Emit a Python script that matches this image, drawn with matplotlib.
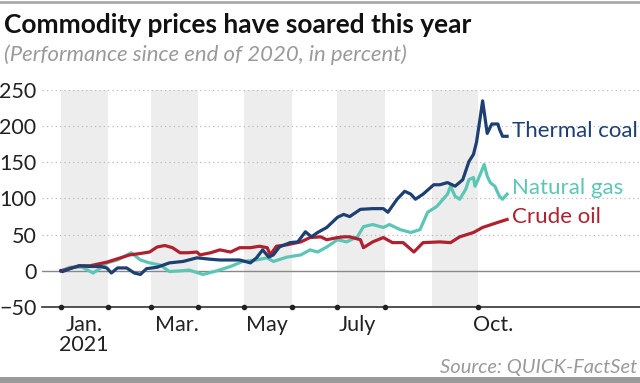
import matplotlib.pyplot as plt
import pandas as pd

# values, x = days since Jan 1 2021, y = percent since end of 2020
oil_days = [0, 12, 19, 30, 39, 45, 52, 58, 63, 68, 73, 78, 83, 89, 91, 98, 104, 111, 117,
            124, 130, 135, 137, 141, 148, 157, 163, 170, 174, 181, 185, 189, 196, 198, 204,
            211, 217, 224, 231, 237, 248, 255, 261, 270, 276, 286, 292]
oil_vals = [0, 7, 7, 12, 18, 22, 24, 26, 33, 35, 32, 25, 25, 26, 22, 25, 29, 26, 32,
            32, 34, 32, 22, 34, 36, 40, 46, 47, 43, 46, 47, 47, 43, 32, 40,
            46, 39, 39, 26, 39, 40, 39, 47, 53, 60, 67, 71]

gas_days = [0, 6, 14, 21, 26, 30, 37, 46, 52, 58, 65, 71, 78, 84, 93, 102, 111, 119, 128,
            135, 139, 148, 157, 163, 168, 174, 181, 187, 194, 198, 204, 211, 215, 222, 229,
            235, 240, 246, 253, 255, 258, 261, 265, 267, 270, 271, 273, 277, 279, 281, 284,
            287, 289, 292]
gas_vals = [0, 5, 5, -3, 4, 11, 15, 25, 15, 11, 8, -1, 0, 1, -5, 0, 6, 13, 15,
            18, 13, 19, 22, 29, 26, 33, 43, 40, 47, 61, 64, 60, 64, 57, 53,
            57, 81, 89, 106, 117, 103, 99, 113, 126, 129, 117, 126, 147, 131, 122, 117,
            103, 99, 106]

coal_days = [0, 1, 6, 12, 19, 26, 30, 33, 37, 43, 48, 52, 56, 63, 71, 80, 89, 98, 104, 117,
             124, 128, 132, 136, 139, 143, 150, 155, 160, 164, 168, 174, 181, 185, 189, 196,
             204, 211, 214, 220, 225, 229, 232, 237, 244, 248, 253, 258, 263, 267, 270, 272,
             274, 276, 279, 282, 286, 287, 289, 292]
coal_vals = [0, -1, 3, 7, 6, 6, 4, -3, 4, 4, -3, -5, 3, 5, 11, 13, 18, 16, 15, 15,
             11, 18, 29, 19, 22, 33, 39, 40, 54, 47, 53, 60, 74, 78, 75, 85,
             86, 86, 81, 99, 110, 106, 99, 106, 119, 119, 122, 117, 126, 151, 161, 178,
             206, 235, 190, 203, 203, 196, 186, 186]

start = pd.Timestamp("2021-01-01")
def to_dates(days):
    return start + pd.to_timedelta(days, unit="D")

navy = "#1d3f72"
teal = "#5cc6b6"
red = "#b0212f"

plt.rcParams['font.family'] = ['Lato', 'DejaVu Sans']

fig = plt.figure(figsize=(6.4, 3.83), dpi=100)
ax = fig.add_axes([42/640, 1 - 307/383, 598/640, (307 - 90)/383])

# shaded alternate months
for m in [1, 3, 5, 7, 9]:
    ax.axvspan(pd.Timestamp(2021, m, 1), pd.Timestamp(2021, m + 1, 1), color="#ededed", lw=0, zorder=0)

for y in [50, 100, 150, 200, 250]:
    ax.axhline(y, color="#bbbbbb", lw=0.9, ls=(0, (1, 2.5)), zorder=1)
ax.axhline(0, color="#888888", lw=1.0, zorder=1)
ax.axhline(-50, color="#333333", lw=1.2, zorder=3, clip_on=False)

ax.plot(to_dates(gas_days), gas_vals, color=teal, lw=2.3, zorder=4)
ax.plot(to_dates(oil_days), oil_vals, color=red, lw=2.3, zorder=5)
ax.plot(to_dates(coal_days), coal_vals, color=navy, lw=2.3, zorder=6)

# tick dots on the bottom axis
dot_dates = [pd.Timestamp(2021, m, 1) for m in [1, 2, 3, 4, 5, 6, 7, 8, 10]]
ax.plot(dot_dates, [-50] * len(dot_dates), "o", color="#222222", ms=3, zorder=6, clip_on=False)

ax.set_xlim(start - pd.Timedelta(days=12.4), start + pd.Timedelta(days=379))
ax.set_ylim(-50, 250)

for s in ax.spines.values():
    s.set_visible(False)

ax.set_yticks([-50, 0, 50, 100, 150, 200, 250])
ax.set_yticklabels(["\u221250", "0", "50", "100", "150", "200", "250"])
ax.tick_params(axis="y", length=0, pad=4, labelsize=15.5, labelcolor="#222222")

xt = [pd.Timestamp("2021-01-16"), pd.Timestamp("2021-03-18"), pd.Timestamp("2021-05-16"),
      pd.Timestamp("2021-07-14"), pd.Timestamp("2021-10-11")]
ax.set_xticks(xt)
ax.set_xticklabels(["Jan.\n2021", "Mar.", "May", "July", "Oct."], va="top", linespacing=1.0)
ax.tick_params(axis="x", length=0, pad=6, labelsize=15.5, labelcolor="#222222")

# series labels
lx = start + pd.Timedelta(days=295.5)
ax.text(lx, 193, "Thermal coal", color=navy, fontsize=16, va="center", ha="left")
ax.text(lx, 114, "Natural gas", color=teal, fontsize=16, va="center", ha="left")
ax.text(lx, 74, "Crude oil", color=red, fontsize=16, va="center", ha="left")

fig.text(4/640, 1 - 25/383, "Commodity prices have soared this year", fontsize=18.9,
         fontweight="bold", color="#111111", va="center", ha="left")
fig.text(4/640, 1 - 55/383, "(Performance since end of 2020, in percent)", fontsize=15.9,
         fontstyle="italic", color="#9a9a9a", va="center", ha="left")
fig.text(637/640, 1 - 367/383, "Source: QUICK-FactSet", fontsize=14.5,
         fontstyle="italic", color="#9a9a9a", va="center", ha="right")

# frame lines at top and bottom of the graphic
fig.add_artist(plt.Line2D([0, 1], [1 - 1.5/383, 1 - 1.5/383], color="#aaaaaa", lw=2))
fig.add_artist(plt.Rectangle((0, 0), 1, 6/383, color="#9a9a9a", lw=0))

fig.savefig("out.png", dpi=100, facecolor="white")
